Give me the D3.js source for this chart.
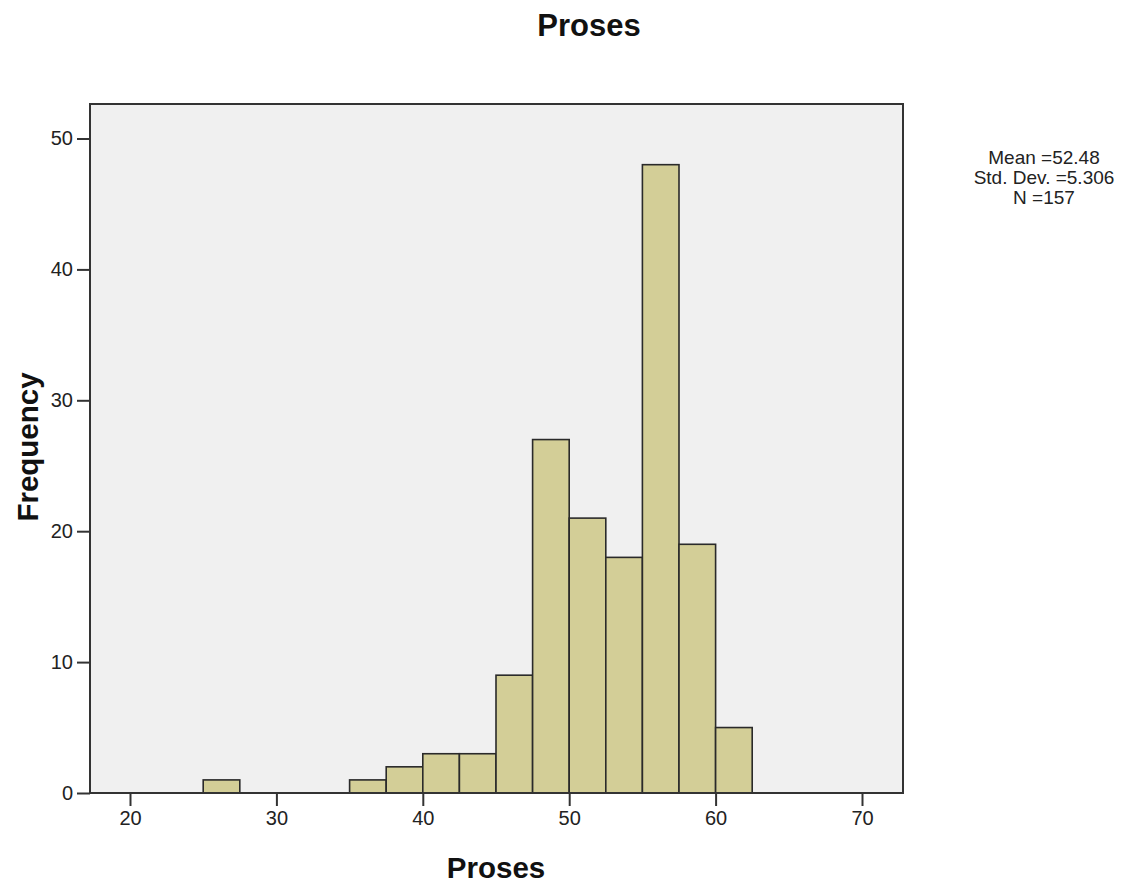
<!DOCTYPE html>
<html>
<head>
<meta charset="utf-8">
<script src="https://cdn.jsdelivr.net/npm/d3@7"></script>
<style>
  html, body { margin: 0; padding: 0; background: #fff; }
  svg { display: block; font-family: "Liberation Sans", Arial, sans-serif; }
</style>
</head>
<body>
<svg id="chart" width="1148" height="890"></svg>
<script>
// Data
const binStarts = [25, 35, 37.5, 40, 42.5, 45, 47.5, 50, 52.5, 55, 57.5, 60];
const binWidth = 2.5;
const frequencies = [1, 1, 2, 3, 3, 9, 27, 21, 18, 48, 19, 5];
const xTicks = [20, 30, 40, 50, 60, 70];
const yTicks = [0, 10, 20, 30, 40, 50];
const statsLines = ["Mean =52.48", "Std. Dev. =5.306", "N =157"];
const titleText = "Proses";
const xLabel = "Proses";
const yLabel = "Frequency";

const svg = d3.select("#chart");
const plot = { left: 90, right: 903, top: 104, bottom: 793 };

const x = d3.scaleLinear().domain([20, 70]).range([130, 862]);
const y = d3.scaleLinear().domain([0, 50]).range([793, 138.5]);

// Plot background
svg.append("rect")
  .attr("x", plot.left).attr("y", plot.top)
  .attr("width", plot.right - plot.left).attr("height", plot.bottom - plot.top)
  .attr("fill", "#f0f0f0");

// Bars
const bins = binStarts.map((s, i) => ({ x0: s, x1: s + binWidth, n: frequencies[i] }));
svg.append("g").selectAll("rect").data(bins).join("rect")
  .attr("x", d => x(d.x0))
  .attr("y", d => y(d.n))
  .attr("width", d => x(d.x1) - x(d.x0))
  .attr("height", d => y(0) - y(d.n))
  .attr("fill", "#d3ce97")
  .attr("stroke", "#2a2a2a")
  .attr("stroke-width", 1.6);

// Plot frame
svg.append("rect")
  .attr("x", plot.left).attr("y", plot.top)
  .attr("width", plot.right - plot.left).attr("height", plot.bottom - plot.top)
  .attr("fill", "none").attr("stroke", "#333").attr("stroke-width", 2);

// Axes
const xAxis = d3.axisBottom(x).tickValues(xTicks).tickSize(13).tickPadding(5).tickFormat(d3.format("d"));
const gx = svg.append("g").attr("transform", `translate(0,${plot.bottom})`).call(xAxis);
gx.select(".domain").remove();
gx.selectAll(".tick line").attr("stroke", "#333").attr("stroke-width", 2);
gx.selectAll(".tick text").attr("font-size", 20).attr("fill", "#222")
  .attr("font-family", "Liberation Sans, Arial, sans-serif");

const yAxis = d3.axisLeft(y).tickValues(yTicks).tickSize(13).tickPadding(4).tickFormat(d3.format("d"));
const gy = svg.append("g").attr("transform", `translate(${plot.left},0)`).call(yAxis);
gy.select(".domain").remove();
gy.selectAll(".tick line").attr("stroke", "#333").attr("stroke-width", 2);
gy.selectAll(".tick text").attr("font-size", 20).attr("fill", "#222")
  .attr("font-family", "Liberation Sans, Arial, sans-serif");

// Title
svg.append("text")
  .attr("x", 589).attr("y", 36)
  .attr("text-anchor", "middle")
  .attr("font-size", 31).attr("font-weight", "bold").attr("fill", "#111")
  .text(titleText);

// X label
svg.append("text")
  .attr("x", 496).attr("y", 878)
  .attr("text-anchor", "middle")
  .attr("font-size", 29.5).attr("font-weight", "bold").attr("fill", "#111")
  .text(xLabel);

// Y label
svg.append("text")
  .attr("transform", "translate(38,447) rotate(-90)")
  .attr("text-anchor", "middle")
  .attr("font-size", 29.5).attr("font-weight", "bold").attr("fill", "#111")
  .text(yLabel);

// Stats
statsLines.forEach((t, i) => {
  svg.append("text")
    .attr("x", 1044).attr("y", 164 + i * 20)
    .attr("text-anchor", "middle")
    .attr("font-size", 19).attr("fill", "#222")
    .text(t);
});
</script>
</body>
</html>
